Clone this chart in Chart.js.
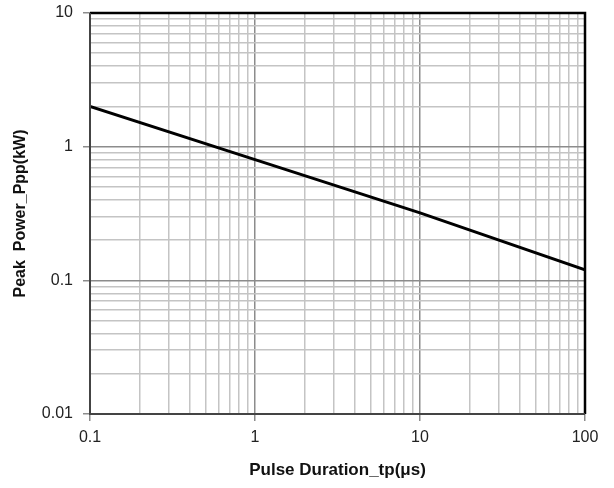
<!DOCTYPE html>
<html>
<head>
<meta charset="utf-8">
<script src="https://cdn.jsdelivr.net/npm/chart.js@4.4.1/dist/chart.umd.min.js"></script>
<style>
  html, body { margin: 0; padding: 0; background: #fff; }
  #wrap { width: 614px; height: 488px; }
</style>
</head>
<body>
<div id="wrap"><canvas id="powerChart"></canvas></div>
<script>
// pulse duration tp (us) vs peak power Ppp (kW)
var pulseDuration = [0.1, 1, 10, 100];
var peakPower = [2, 0.8, 0.32, 0.12];

var xTickLabels = [0.1, 1, 10, 100];
var yTickLabels = [0.01, 0.1, 1, 10];

function logTicks(min, max) {
    var ticks = [];
    for (var d = min; d < max * 0.999; d *= 10) {
        for (var k = 1; k <= 9; k++) {
            ticks.push({ value: +(d * k).toPrecision(3) });
        }
    }
    ticks.push({ value: max });
    return ticks;
}

function isMajor(v, list) {
    for (var i = 0; i < list.length; i++) {
        if (Math.abs(v - list[i]) / list[i] < 1e-6) return true;
    }
    return false;
}

var framePlugin = {
    id: 'frame',
    afterDraw: function(chart) {
        var a = chart.chartArea;
        var ctx = chart.ctx;
        ctx.save();
        ctx.strokeStyle = '#000';
        ctx.lineWidth = 2.5;
        ctx.beginPath();
        ctx.moveTo(a.left, a.top);
        ctx.lineTo(a.right, a.top);
        ctx.lineTo(a.right, a.bottom);
        ctx.stroke();
        ctx.strokeStyle = '#444';
        ctx.lineWidth = 2;
        ctx.beginPath();
        ctx.moveTo(a.left, a.top);
        ctx.lineTo(a.left, a.bottom);
        ctx.lineTo(a.right, a.bottom);
        ctx.stroke();
        ctx.restore();
    }
};

var points = [];
for (var i = 0; i < pulseDuration.length; i++) {
    points.push({ x: pulseDuration[i], y: peakPower[i] });
}

Chart.defaults.font.family = "'Liberation Sans', Arial, sans-serif";
Chart.defaults.color = '#222';

var powerCanvas = document.getElementById("powerChart");

var powerChart = new Chart(powerCanvas, {
    type: 'scatter',
    data: {
        datasets: [{
            data: points,
            showLine: true,
            borderColor: '#000',
            borderWidth: 3,
            pointRadius: 0,
            fill: false
        }]
    },
    options: {
        responsive: true,
        maintainAspectRatio: false,
        animation: false,
        layout: { padding: { left: 4, right: 29, top: 13, bottom: 4 } },
        plugins: {
            legend: { display: false },
            tooltip: { enabled: false }
        },
        scales: {
            x: {
                type: 'logarithmic',
                min: 0.1,
                max: 100,
                afterBuildTicks: function(scale) { scale.ticks = logTicks(0.1, 100); },
                afterFit: function(scale) { scale.height = 70; },
                ticks: {
                    autoSkip: false,
                    maxRotation: 0,
                    padding: 7,
                    font: { size: 16 },
                    callback: function(v) { return isMajor(v, xTickLabels) ? String(v) : ''; }
                },
                grid: {
                    color: function(c) { return isMajor(c.tick.value, xTickLabels) ? '#8c8c8c' : '#c4c4c4'; },
                    tickColor: function(c) { return isMajor(c.tick.value, xTickLabels) ? '#8c8c8c' : 'rgba(0,0,0,0)'; },
                    lineWidth: 1.5,
                    tickLength: 7
                },
                border: { display: false },
                title: {
                    display: true,
                    text: 'Pulse Duration_tp(μs)',
                    font: { size: 17, weight: 'bold' },
                    color: '#111',
                    padding: { top: 0, bottom: 3 }
                }
            },
            y: {
                type: 'logarithmic',
                min: 0.01,
                max: 10,
                afterBuildTicks: function(scale) { scale.ticks = logTicks(0.01, 10); },
                afterFit: function(scale) {
                    scale.width = 86;
                    // tick padding is added to the top/bottom margin, keep the plot where it was
                    scale.paddingTop = 10;
                    scale.paddingBottom = 10;
                },
                ticks: {
                    autoSkip: false,
                    padding: 10,
                    font: { size: 16 },
                    callback: function(v) { return isMajor(v, yTickLabels) ? String(v) : ''; }
                },
                grid: {
                    color: function(c) { return isMajor(c.tick.value, yTickLabels) ? '#8c8c8c' : '#c4c4c4'; },
                    tickColor: function(c) { return isMajor(c.tick.value, yTickLabels) ? '#8c8c8c' : 'rgba(0,0,0,0)'; },
                    lineWidth: 1.5,
                    tickLength: 7
                },
                border: { display: false },
                title: {
                    display: true,
                    text: 'Peak  Power_Ppp(kW)',
                    font: { size: 16, weight: 'bold' },
                    color: '#111',
                    padding: { top: 7, bottom: 0 }
                }
            }
        }
    },
    plugins: [framePlugin]
});
</script>
</body>
</html>
